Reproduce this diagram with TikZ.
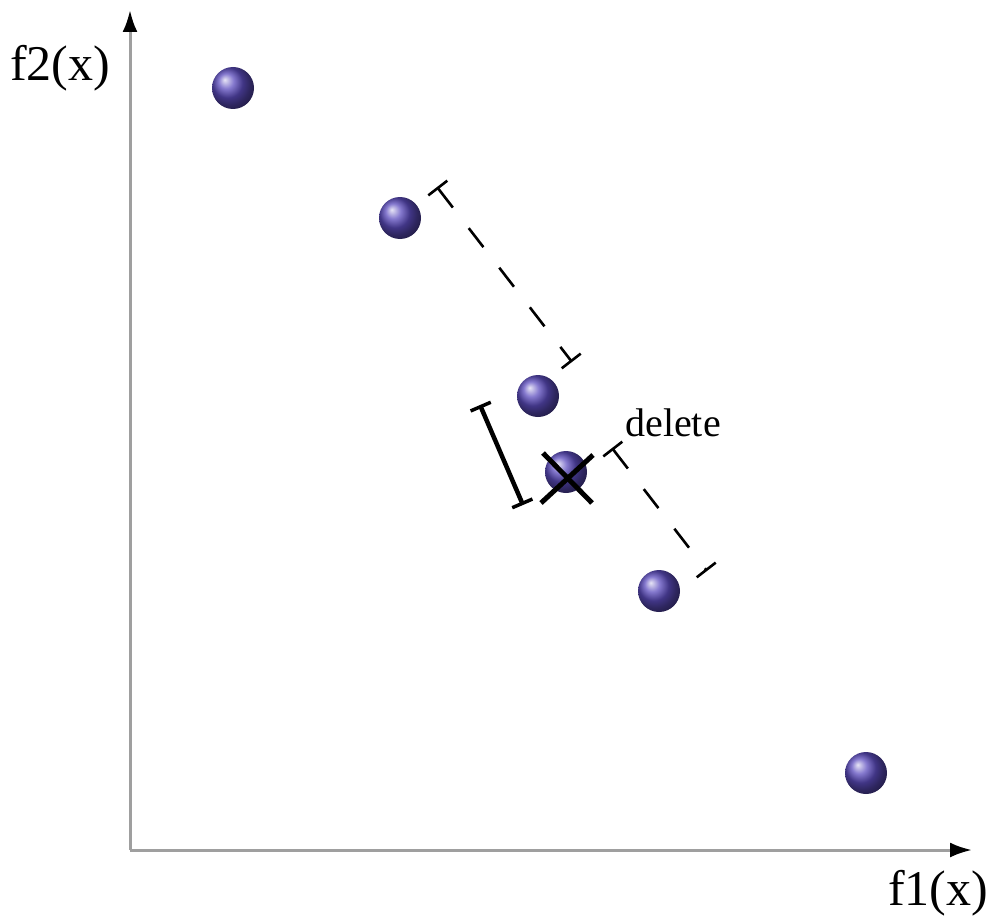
\documentclass[tikz,border=0pt]{standalone}
\usepackage{fontspec}
\setmainfont{Liberation Serif}
\usetikzlibrary{arrows.meta}

\begin{document}
\begin{tikzpicture}[x=1pt, y=-1pt,
    sol/.style={circle, minimum size=42pt, inner sep=0pt, shading=ball, ball color={rgb,255:red,92;green,76;blue,190}},
    axis/.style={draw=gray!75, line width=3pt, -{Latex[black, length=22pt, width=15pt]}},
    gap/.style={line width=2.6pt, dash pattern=on 24pt off 26pt, {Bar[width=24pt, line width=2.6pt]}-{Bar[width=24pt, line width=2.6pt]}},
    crowd/.style={line width=4.5pt, {Bar[width=22pt, line width=3.5pt]}-{Bar[width=22pt, line width=3.5pt]}}]
    \useasboundingbox (0,0) rectangle (995,920);
    % axes
    \coordinate (O) at (130,850);
    \coordinate (ytop) at (130,10);
    \coordinate (xend) at (972,850);
    \draw[axis] (O) -- (ytop);
    \draw[axis] (O) -- (xend);
    \node (f2) at (60,68) {\fontsize{50}{56}\selectfont f2(x)};
    \node (f1) at (938,893) {\fontsize{50}{56}\selectfont f1(x)};
    % solutions
    \node (p1) [sol] at (233,88) {};
    \node (p2) [sol] at (400,218) {};
    \node (p3) [sol] at (538,396) {};
    \node (p4) [sol] at (566,472) {};
    \node (p5) [sol] at (659,591) {};
    \node (p6) [sol] at (866,773) {};
    % distances
    \coordinate (d1a) at (437,187);
    \coordinate (d1b) at (572,362);
    \coordinate (d2a) at (612,448);
    \coordinate (d2b) at (707,571);
    \coordinate (d3a) at (480,405);
    \coordinate (d3b) at (523,505);
    \draw[gap] (d1a) -- (d1b);
    \draw[gap] (d2a) -- (d2b);
    \draw[crowd] (d3a) -- (d3b);
    % removed point
    \draw[line width=5pt] ([shift={(-25,31)}]p4.center) -- ([shift={(27,-17)}]p4.center);
    \draw[line width=5pt] ([shift={(-23,-19)}]p4.center) -- ([shift={(26,31)}]p4.center);
    \node (del) at (673,423) {\fontsize{40}{46}\selectfont delete};
\end{tikzpicture}
\end{document}
